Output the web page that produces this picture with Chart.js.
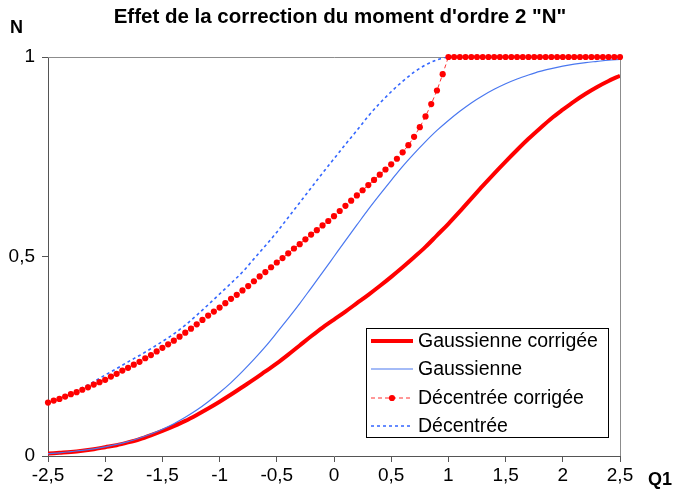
<!DOCTYPE html>
<html><head><meta charset="utf-8">
<script src="https://cdn.jsdelivr.net/npm/chart.js@4/dist/chart.umd.min.js"></script>
<style>html,body{margin:0;padding:0;background:#fff;overflow:hidden}#wrap{position:relative;width:675px;height:495px}</style>
</head><body><div id="wrap"><canvas id="c" width="675" height="495"></canvas></div>
<script>
const titleText = 'Effet de la correction du moment d\'ordre 2 "N"';
const yAxisTitle = 'N';
const xAxisTitle = 'Q1';
const seriesNames = ['Gaussienne corrigée', 'Gaussienne', 'Décentrée corrigée', 'Décentrée'];
const xTickValues = [-2.5, -2, -1.5, -1, -0.5, 0, 0.5, 1, 1.5, 2, 2.5];
const xTickLabels = ['-2,5', '-2', '-1,5', '-1', '-0,5', '0', '0,5', '1', '1,5', '2', '2,5'];
const yTickValues = [0, 0.5, 1];
const yTickLabels = ['0', '0,5', '1'];

const xLine = [-2.5,-2.4,-2.3,-2.2,-2.1,-2.0,-1.9,-1.8,-1.7,-1.6,-1.5,-1.4,-1.3,-1.2,-1.1,-1.0,-0.9,-0.8,-0.7,-0.6,-0.5,-0.4,-0.3,-0.2,-0.1,0,0.1,0.2,0.3,0.4,0.5,0.6,0.7,0.8,0.9,1.0,1.1,1.2,1.3,1.4,1.5,1.6,1.7,1.8,1.9,2.0,2.1,2.2,2.3,2.4,2.5];

const gaussCorr = [0.006,0.008,0.010,0.013,0.017,0.022,0.027,0.034,0.042,0.052,0.063,0.075,0.088,0.103,0.119,0.136,0.154,0.173,0.192,0.212,0.232,0.254,0.277,0.300,0.322,0.342,0.362,0.383,0.404,0.426,0.449,0.473,0.498,0.524,0.553,0.582,0.613,0.645,0.677,0.708,0.738,0.767,0.795,0.821,0.846,0.868,0.889,0.908,0.925,0.940,0.953];

const gauss = [0.006,0.008,0.011,0.014,0.018,0.023,0.029,0.036,0.045,0.055,0.067,0.081,0.097,0.115,0.136,0.159,0.184,0.212,0.242,0.274,0.309,0.345,0.382,0.421,0.460,0.500,0.540,0.579,0.618,0.655,0.691,0.726,0.758,0.788,0.816,0.841,0.864,0.885,0.903,0.919,0.933,0.945,0.955,0.964,0.971,0.977,0.982,0.986,0.989,0.992,0.994];

const decentree = [0.130,0.143,0.157,0.171,0.186,0.203,0.219,0.236,0.252,0.269,0.287,0.306,0.328,0.353,0.379,0.406,0.433,0.461,0.494,0.527,0.561,0.598,0.635,0.672,0.709,0.745,0.781,0.816,0.852,0.884,0.913,0.939,0.962,0.980,0.993,1,1,1,1,1,1,1,1,1,1,1,1,1,1,1,1];

const xDot = [-2.5,-2.45,-2.4,-2.35,-2.3,-2.25,-2.2,-2.15,-2.1,-2.05,-2.0,-1.95,-1.9,-1.85,-1.8,-1.75,-1.7,-1.65,-1.6,-1.55,-1.5,-1.45,-1.4,-1.35,-1.3,-1.25,-1.2,-1.15,-1.1,-1.05,-1.0,-0.95,-0.9,-0.85,-0.8,-0.75,-0.7,-0.65,-0.6,-0.55,-0.5,-0.45,-0.4,-0.35,-0.3,-0.25,-0.2,-0.15,-0.1,-0.05,0,0.05,0.1,0.15,0.2,0.25,0.3,0.35,0.4,0.45,0.5,0.55,0.6,0.65,0.7,0.75,0.8,0.85,0.9,0.95,1.0,1.05,1.1,1.15,1.2,1.25,1.3,1.35,1.4,1.45,1.5,1.55,1.6,1.65,1.7,1.75,1.8,1.85,1.9,1.95,2.0,2.05,2.1,2.15,2.2,2.25,2.3,2.35,2.4,2.45,2.5];

const decCorr = [0.134,0.139,0.143,0.149,0.155,0.160,0.166,0.172,0.179,0.185,0.191,0.199,0.206,0.214,0.221,0.229,0.236,0.245,0.253,0.262,0.271,0.280,0.289,0.299,0.309,0.319,0.330,0.341,0.352,0.362,0.372,0.383,0.394,0.404,0.415,0.426,0.438,0.450,0.461,0.473,0.485,0.496,0.508,0.520,0.531,0.543,0.555,0.566,0.578,0.589,0.601,0.614,0.627,0.640,0.653,0.666,0.679,0.692,0.705,0.718,0.731,0.745,0.761,0.779,0.800,0.824,0.851,0.882,0.916,0.957,1,1,1,1,1,1,1,1,1,1,1,1,1,1,1,1,1,1,1,1,1,1,1,1,1,1,1,1,1,1,1];

const pts = (xs, ys) => xs.map((x, i) => ({ x: x, y: ys[i] }));

const FONT = '"Liberation Sans", Arial, sans-serif';

const decor = {
  id: 'decor',
  beforeDatasetsDraw(chart) {
    const { ctx, chartArea: a } = chart;
    ctx.save();
    ctx.strokeStyle = '#8c8c8c';
    ctx.lineWidth = 1;
    ctx.beginPath();
    ctx.moveTo(a.left, a.top + 0.5);
    ctx.lineTo(a.right + 0.5, a.top + 0.5);
    ctx.lineTo(a.right + 0.5, a.bottom);
    ctx.stroke();
    ctx.restore();
  },
  afterDraw(chart) {
    const { ctx } = chart;
    ctx.save();
    ctx.fillStyle = '#000';
    ctx.textBaseline = 'middle';
    ctx.textAlign = 'center';
    ctx.font = 'bold 20.5px ' + FONT;
    ctx.fillText(titleText, 340, 17);
    ctx.textAlign = 'left';
    ctx.font = 'bold 18px ' + FONT;
    ctx.fillText(yAxisTitle, 10, 28);
    ctx.fillText(xAxisTitle, 648, 480);

    // legend
    const bx = 366, by = 328, bw = 242, bh = 109;
    ctx.fillStyle = '#fff';
    ctx.fillRect(bx, by, bw, bh);
    ctx.strokeStyle = '#000';
    ctx.lineWidth = 1;
    ctx.strokeRect(bx + 0.5, by + 0.5, bw, bh);
    const rows = [341, 369, 398, 426];
    const order = [0, 1, 2, 3];
    order.forEach((di, r) => {
      const ds = chart.data.datasets[di];
      const y = rows[r];
      ctx.save();
      ctx.strokeStyle = ds.borderColor;
      ctx.lineWidth = ds.borderWidth;
      ctx.setLineDash(ds.borderDash || []);
      ctx.beginPath();
      ctx.moveTo(371, y);
      ctx.lineTo(413, y);
      ctx.stroke();
      if (ds.pointRadius > 0) {
        ctx.setLineDash([]);
        ctx.fillStyle = ds.pointBackgroundColor;
        ctx.beginPath();
        ctx.arc(392, y, ds.pointRadius, 0, Math.PI * 2);
        ctx.fill();
      }
      ctx.restore();
      ctx.fillStyle = '#000';
      ctx.font = '19.5px ' + FONT;
      ctx.textAlign = 'left';
      ctx.fillText(ds.label, 418, y + 1);
    });
    ctx.restore();
  }
};

const tickFont = { family: FONT, size: 19, lineHeight: 1 };

new Chart(document.getElementById('c'), {
  type: 'line',
  data: {
    datasets: [
      { label: seriesNames[0], data: pts(xLine, gaussCorr), borderColor: '#ff0000', borderWidth: 4, pointRadius: 0, cubicInterpolationMode: 'monotone', order: 3 },
      { label: seriesNames[1], data: pts(xLine, gauss), borderColor: '#4a78f0', borderWidth: 1.2, pointRadius: 0, cubicInterpolationMode: 'monotone', order: 2 },
      { label: seriesNames[2], data: pts(xDot, decCorr), borderColor: '#ff3030', borderWidth: 1, borderDash: [4, 3], pointRadius: 3.1, pointBackgroundColor: '#ff0000', pointBorderWidth: 0, pointBorderColor: '#ff0000', tension: 0, order: 0, clip: false },
      { label: seriesNames[3], data: pts(xLine, decentree), borderColor: '#3366ff', borderWidth: 1.6, borderDash: [3, 3], pointRadius: 0, cubicInterpolationMode: 'monotone', order: 1 }
    ]
  },
  options: {
    responsive: false,
    animation: false,
    devicePixelRatio: 1,
    layout: { padding: { top: 57, right: 55, left: 0, bottom: 0 } },
    plugins: { legend: { display: false }, title: { display: false }, tooltip: { enabled: false } },
    scales: {
      x: {
        type: 'linear', min: -2.5, max: 2.5,
        afterFit(s) { s.height = 39; },
        afterBuildTicks(s) { s.ticks = xTickValues.map(v => ({ value: v })); },
        grid: { display: true, drawOnChartArea: false, drawTicks: true, tickLength: 6, color: '#555' },
        border: { display: true, color: '#555', width: 1 },
        ticks: { color: '#000', font: tickFont, padding: 4, maxRotation: 0, autoSkip: false,
          callback: (v) => { const i = xTickValues.indexOf(v); return i >= 0 ? xTickLabels[i] : ''; } }
      },
      y: {
        type: 'linear', min: 0, max: 1,
        afterFit(s) { s.width = 48; },
        afterBuildTicks(s) { s.ticks = yTickValues.map(v => ({ value: v })); },
        grid: { display: true, drawOnChartArea: false, drawTicks: true, tickLength: 6, color: '#555' },
        border: { display: true, color: '#555', width: 1 },
        ticks: { color: '#000', font: tickFont, padding: 7,
          callback: (v) => { const i = yTickValues.indexOf(v); return i >= 0 ? yTickLabels[i] : ''; } }
      }
    }
  },
  plugins: [decor]
});
</script>
</body></html>
